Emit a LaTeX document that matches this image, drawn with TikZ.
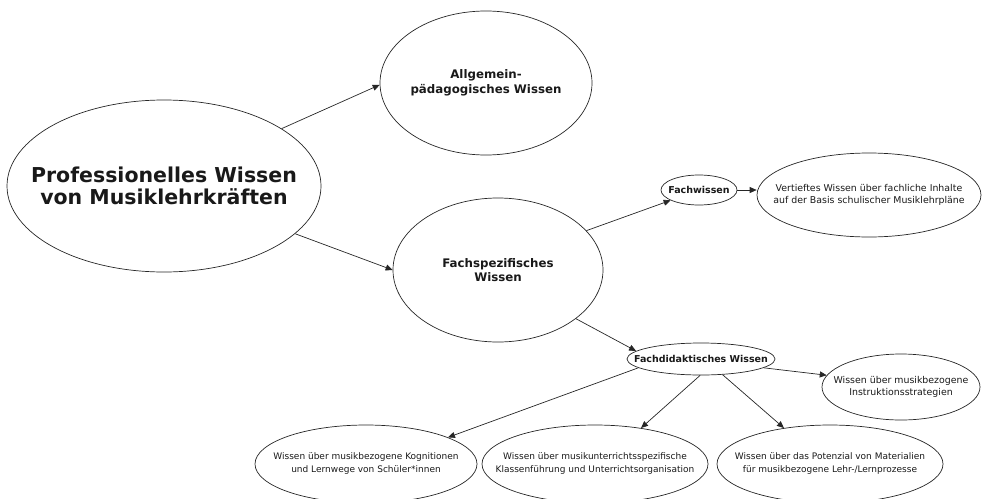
\documentclass[tikz,border=0pt]{standalone}
\usepackage{fontspec}
\setmainfont{DejaVu Sans}
\usetikzlibrary{shapes.geometric,arrows.meta}
\begin{document}
\begin{tikzpicture}[x=1pt,y=-1pt,
  ell/.style={ellipse,draw=black!85,line width=0.7pt,inner sep=0pt},
  lab/.style={align=center,text=black!90,inner sep=0pt},
  arr/.style={draw=black!85,line width=0.7pt,-{Triangle[length=7pt,width=6pt]}},
  bigtxt/.style={lab,font=\fontsize{20.5}{22.5}\selectfont\bfseries},
  midtxt/.style={lab,font=\fontsize{11.8}{14.5}\selectfont\bfseries},
  smbtxt/.style={lab,font=\fontsize{9.5}{12}\selectfont\bfseries},
  smtxt/.style={lab,font=\fontsize{9.4}{12.5}\selectfont},
  bottxt/.style={lab,font=\fontsize{9}{13}\selectfont}]
\useasboundingbox (0,0) rectangle (982,498);
\node[ell,minimum width=314pt,minimum height=172pt,label={[bigtxt]center:{Professionelles Wissen\\ von Musiklehrkräften}}] (main) at (164,186) {};
\node[ell,minimum width=212pt,minimum height=144pt,label={[midtxt]center:{Allgemein-\\pädagogisches Wissen}}] (allg) at (486,83) {};
\node[ell,minimum width=210pt,minimum height=144pt,label={[midtxt]center:{Fachspezifisches\\Wissen}}] (fachsp) at (498,270) {};
\node[ell,minimum width=76pt,minimum height=30pt,label={[smbtxt]center:{Fachwissen}}] (fachw) at (699,190) {};
\node[ell,minimum width=224pt,minimum height=84pt,label={[smtxt]center:{Vertieftes Wissen über fachliche Inhalte\\auf der Basis schulischer Musiklehrpläne}}] (vert) at (869,195) {};
\node[ell,minimum width=148pt,minimum height=32pt,label={[smbtxt]center:{Fachdidaktisches Wissen}}] (fachd) at (701,359) {};
\node[ell,minimum width=158pt,minimum height=66pt,label={[smtxt]center:{Wissen über musikbezogene\\Instruktionsstrategien}}] (instr) at (901,387) {};
\node[ell,minimum width=222pt,minimum height=78pt,label={[bottxt]center:{Wissen über musikbezogene Kognitionen\\und Lernwege von Schüler*innen}}] (kogn) at (366,464) {};
\node[ell,minimum width=226pt,minimum height=78pt,label={[bottxt]center:{Wissen über musikunterrichtsspezifische\\Klassenführung und Unterrichtsorganisation}}] (klass) at (595,464) {};
\node[ell,minimum width=226pt,minimum height=78pt,label={[bottxt]center:{Wissen über das Potenzial von Materialien\\für musikbezogene Lehr-/Lernprozesse}}] (mater) at (830,464) {};
\draw[arr] (main.26) -- (allg.181);
\draw[arr] (main.-20) -- (fachsp.180);
\draw[arr] (fachsp.24) -- (fachw.200);
\draw[arr] (fachw.east) -- (vert.west |- fachw.east);
\draw[arr] (fachsp.-32) -- (fachd.173);
\draw[arr] (fachd.188) -- (kogn.18);
\draw[arr] (fachd.267) -- (klass.38);
\draw[arr] (fachd.-36) -- (mater.142);
\draw[arr] (fachd.-8) -- (instr.171);
\end{tikzpicture}
\end{document}
